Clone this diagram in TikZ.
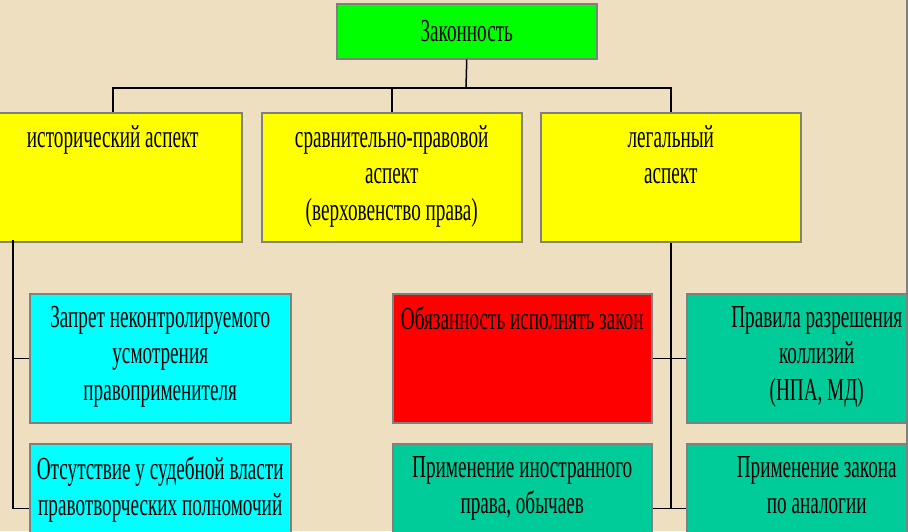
\documentclass[tikz,border=0pt]{standalone}
\usepackage{fontspec}
\setmainfont[FakeStretch=0.6]{Liberation Serif}
\usetikzlibrary{positioning}
\definecolor{parch}{RGB}{238,223,192}
\definecolor{lawgreen}{RGB}{0,255,0}
\definecolor{aspyellow}{RGB}{255,255,0}
\definecolor{bancyan}{RGB}{0,255,255}
\definecolor{dutyred}{RGB}{255,0,0}
\definecolor{ruleteal}{RGB}{0,204,153}
\definecolor{edgegray}{RGB}{128,128,128}

\begin{document}
\begin{tikzpicture}[x=1pt,y=-1pt]
        \tikzstyle{every node}+=[inner sep=0pt]
        \tikzstyle{box}=[draw=edgegray, line width=1.5pt, anchor=north west, minimum height=129pt]
        \tikzstyle{txt}=[align=center, anchor=north, font=\fontsize{32}{36.5}\selectfont]
        \tikzstyle{wire}=[black, line width=1.5pt]
        \fill [parch] (0,0) rectangle (908,531);
        \useasboundingbox (0,0) rectangle (908,531);
        \node [box, fill=lawgreen, minimum width=260pt, minimum height=55pt, font=\fontsize{32}{36.5}\selectfont] (law) at (336,3) {Законность};
        \node [box, fill=aspyellow, minimum width=258pt] (hist) at (-17,112) {};
        \node [box, fill=aspyellow, minimum width=260pt] (comp) at (261,112) {};
        \node [box, fill=aspyellow, minimum width=260pt] (legal) at (540,112) {};
        \node [box, fill=bancyan, minimum width=261pt] (ban) at (29,293) {};
        \node [box, fill=bancyan, minimum width=261pt] (nojud) at (29,443) {};
        \node [box, fill=dutyred, minimum width=259pt] (duty) at (392,293) {};
        \node [box, fill=ruleteal, minimum width=259pt] (foreign) at (392,443) {};
        \node [box, fill=ruleteal, minimum width=260pt] (rule) at (686,293) {};
        \node [box, fill=ruleteal, minimum width=260pt] (analog) at (686,443) {};
        \node [txt, below=13pt of hist.north] (histtext) {исторический аспект};
        \node [txt, below=13pt of comp.north] (comptext) {сравнительно-правовой\\аспект\\(верховенство права)};
        \node [txt, below=13pt of legal.north] (legaltext) {легальный\\аспект};
        \node [txt, below=13pt of ban.north] (bantext) {Запрет неконтролируемого\\усмотрения\\правоприменителя};
        \node [txt, below=13pt of nojud.north] (nojudtext) {Отсутствие у судебной власти\\правотворческих полномочий};
        \node [txt, below=13pt of duty.north] (dutytext) {Обязанность исполнять закон};
        \node [txt, below=13pt of foreign.north] (foreigntext) {Применение иностранного\\права, обычаев};
        \node [txt, below=13pt of rule.north] (ruletext) {Правила разрешения\\коллизий\\(НПА, МД)};
        \node [txt, below=13pt of analog.north] (analogtext) {Применение закона\\по аналогии};
        \coordinate (bus) at (466,88);
        \coordinate (lspine) at (13,240);
        \draw [wire] (law.south) -- (bus);
        \draw [wire] (hist.north) |- (bus) -| (legal.north);
        \draw [wire] (comp.north) -- (comp.north |- bus);
        \draw [wire] (lspine) |- (nojud.west);
        \draw [wire] (ban.west) -- (ban.west -| lspine);
        \draw [wire] (legal.south) -- (legal.south |- analog.west);
        \draw [wire] (duty.east) -- (rule.west);
        \draw [wire] (foreign.east) -- (analog.west);
        \draw [edgegray, line width=2.5pt] (906.75,0) -- (906.75,531);
\end{tikzpicture}
\end{document}
